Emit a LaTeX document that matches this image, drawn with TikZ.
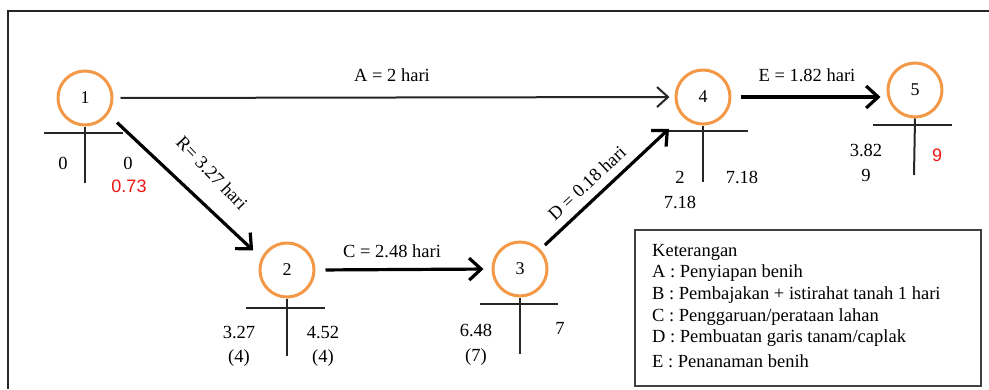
\documentclass[tikz,border=0pt]{standalone}
\usepackage{fontspec}
\setmainfont{Liberation Serif}
\newfontfamily\arialfont{Liberation Sans}
\usetikzlibrary{arrows.meta,calc}
\definecolor{evorange}{RGB}{243,152,70}
\definecolor{redtxt}{RGB}{240,20,20}
\tikzset{
  event/.style={circle,draw=evorange,line width=3pt,minimum size=54pt,inner sep=0pt,font=\fontsize{18}{18}\selectfont},
  tline/.style={line width=2pt,draw=black!85},
  val/.style={inner sep=0pt,font=\fontsize{18.5}{18.5}\selectfont},
  redval/.style={inner sep=0pt,text=redtxt,font=\arialfont\fontsize{18}{18}\selectfont},
  lbl/.style={inner sep=0pt,font=\fontsize{18.5}{18.5}\selectfont},
  thinarr/.style={line width=2pt,draw=black!85,-{Straight Barb[length=11pt,width=20pt,line width=2pt]}},
  thickarr/.style={line width=3.2pt,-{Straight Barb[length=12pt,width=22pt,line width=3.2pt]}},
  legendbox/.style={draw=black!75,line width=1.5pt}
}
\begin{document}
\begin{tikzpicture}[x=1pt,y=-1pt]
\useasboundingbox (0,0) rectangle (989,389);
% outer frame (top and left)
\draw[line width=1.6pt,black!85] (8,389) -- (8,11) -- (989,11);

% events
\node[event] (n1) at (85,98) {1};
\node[event] (n2) at (287,270) {2};
\node[event] (n3) at (520,269) {3};
\node[event] (n4) at (703,97) {4};
\node[event] (n5) at (915,90) {5};

% T crosses
\draw[tline] (44,133) -- (123,133);
\draw[tline] (n1.south) -- (85,183);
\draw[tline] (246,308) -- (325,308);
\draw[tline] (n2.south) -- (287,356);
\draw[tline] (480,304) -- (558,304);
\draw[tline] (n3.south) -- (520,354);
\draw[tline] (668,131) -- (748,131);
\draw[tline] (n4.south) -- (703,182);
\draw[tline] (873,125) -- (952,125);
\draw[tline] (n5.south) -- (914,175);

% values
\node[val] (v1a) at (63,163) {0};
\node[val] (v1b) at (128,163) {0};
\node[redval] (v1c) at (129,186) {0.73};
\node[val] (v2a) at (239,333) {3.27};
\node[val] (v2b) at (239,358) {(4)};
\node[val] (v2c) at (323,333) {4.52};
\node[val] (v2d) at (323,358) {(4)};
\node[val] (v3a) at (476,330) {6.48};
\node[val] (v3b) at (476,357) {(7)};
\node[val] (v3c) at (560,328) {7};
\node[val] (v4a) at (680,177) {2};
\node[val] (v4b) at (742,177) {7.18};
\node[val] (v4c) at (680,202) {7.18};
\node[val] (v5a) at (866,150) {3.82};
\node[val] (v5b) at (866,175) {9};
\node[redval] (v5c) at (937,155) {9};

% activities
\draw[thinarr,shorten <=7pt,shorten >=5pt] (n1.east) -- (n4.west);
\draw[thickarr,shorten <=12pt,shorten >=11pt] (n1.-35) -- (n2.155);
\draw[thickarr,shorten <=10pt,shorten >=8pt] (n2.east) -- (n3.west);
\draw[thickarr,shorten <=6pt,shorten >=18pt] (n3.44) -- (n4.223);
\draw[thickarr,shorten <=9pt,shorten >=6pt] (n4.east) -- (n4.east -| n5.west);

% activity labels
\node[lbl] (la) at (392,75) {A = 2 hari};
\node[lbl,rotate=-46] (lb) at (212,173) {R= 3.27 hari};
\node[lbl] (lc) at (392,251) {C = 2.48 hari};
\node[lbl,rotate=43] (ld) at (587,183) {D = 0.18 hari};
\node[lbl] (le) at (807,75) {E = 1.82 hari};

% legend
\draw[legendbox] (635,230) rectangle (981,386);
\node[lbl,anchor=west] (k0) at (652,252) {Keterangan};
\node[lbl,anchor=west] (k1) at (652,273) {A : Penyiapan benih};
\node[lbl,anchor=west] (k2) at (652,295) {B : Pembajakan + istirahat tanah 1 hari};
\node[lbl,anchor=west] (k3) at (652,317) {C : Penggaruan/perataan lahan};
\node[lbl,anchor=west] (k4) at (652,338) {D : Pembuatan garis tanam/caplak};
\node[lbl,anchor=west] (k5) at (652,361) {E : Penanaman benih};
\end{tikzpicture}
\end{document}
